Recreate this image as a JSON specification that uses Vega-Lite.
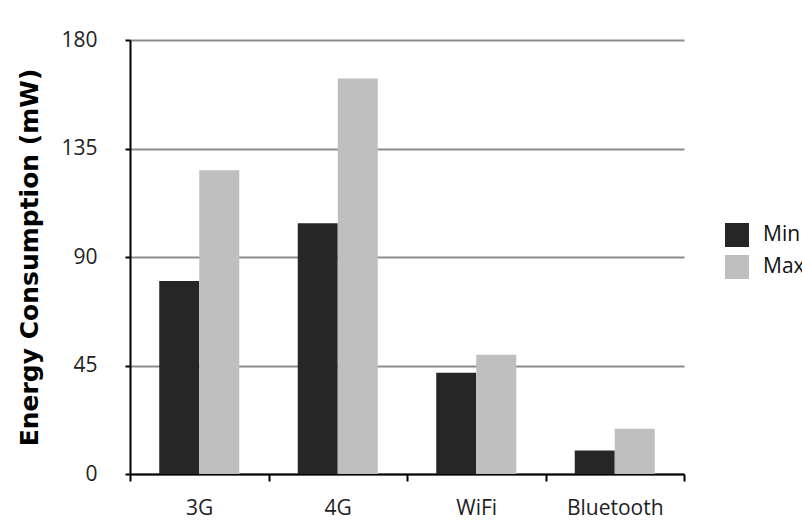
{
  "$schema": "https://vega.github.io/schema/vega-lite/v6.json",
  "autosize": {"type": "none"},
  "width": 554,
  "height": 434,
  "padding": {"left": 130, "top": 40, "right": 118, "bottom": 48},
  "background": "white",
  "data": {
    "values": [
      {"tech": "3G", "series": "Min", "value": 80},
      {"tech": "3G", "series": "Max", "value": 126},
      {"tech": "4G", "series": "Min", "value": 104},
      {"tech": "4G", "series": "Max", "value": 164},
      {"tech": "WiFi", "series": "Min", "value": 42},
      {"tech": "WiFi", "series": "Max", "value": 49.5},
      {"tech": "Bluetooth", "series": "Min", "value": 9.7},
      {"tech": "Bluetooth", "series": "Max", "value": 18.8}
    ]
  },
  "config": {
    "view": {"stroke": null},
    "axis": {
      "labelFont": "Open Sans",
      "labelFontSize": 21,
      "labelColor": "#222222",
      "domainColor": "#000000",
      "domainWidth": 2,
      "tickColor": "#000000",
      "tickWidth": 2,
      "tickSize": 7
    }
  },
  "mark": {"type": "bar"},
  "encoding": {
    "x": {
      "field": "tech",
      "type": "nominal",
      "sort": ["3G", "4G", "WiFi", "Bluetooth"],
      "scale": {"paddingInner": 0, "paddingOuter": 0},
      "axis": {
        "title": null,
        "labelAngle": 0,
        "labelPadding": 16,
        "tickBand": "extent",
        "grid": false
      }
    },
    "xOffset": {
      "field": "series",
      "sort": ["Min", "Max"],
      "scale": {"paddingInner": 0, "paddingOuter": 0.731}
    },
    "y": {
      "field": "value",
      "type": "quantitative",
      "scale": {"domain": [0, 180], "nice": false},
      "axis": {
        "title": "Energy Consumption (mW)",
        "titleFont": "DejaVu Sans",
        "titleFontWeight": "bold",
        "titleFontSize": 25,
        "titleColor": "#000000",
        "titlePadding": 18,
        "values": [0, 45, 90, 135, 180],
        "labelPadding": 28,
        "tickSize": 5,
        "grid": true,
        "gridColor": "#8c8c8c",
        "gridWidth": 2
      }
    },
    "color": {
      "field": "series",
      "type": "nominal",
      "sort": ["Min", "Max"],
      "scale": {"domain": ["Min", "Max"], "range": ["#262626", "#bfbfbf"]},
      "legend": {
        "title": null,
        "orient": "none",
        "legendX": 595,
        "legendY": 183,
        "padding": 0,
        "symbolType": "square",
        "symbolSize": 576,
        "symbolStrokeWidth": 0,
        "symbolOpacity": 1,
        "labelFont": "Open Sans",
        "labelFontSize": 21,
        "labelColor": "#111111",
        "labelOffset": 14,
        "rowPadding": 8
      }
    }
  }
}
